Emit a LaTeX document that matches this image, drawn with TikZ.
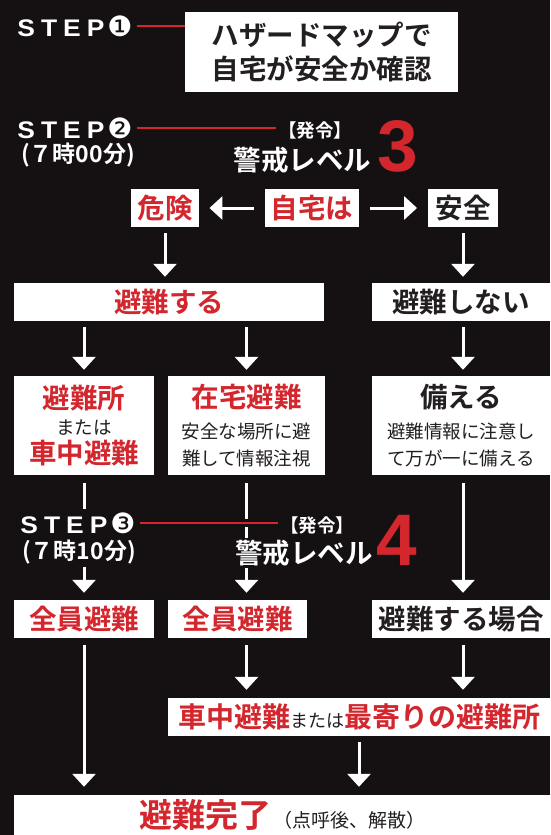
\documentclass[tikz,border=0pt]{standalone}
\usepackage{fontspec}
\usetikzlibrary{arrows.meta}
\setmainfont{Noto Sans CJK JP}[BoldFont={Noto Sans CJK JP Bold}]
\newfontfamily\latinfont{Liberation Sans}[FakeStretch=1.1]
\newfontfamily\digitfont{Liberation Sans}
\newfontfamily\dingfont{DejaVu Sans}

\definecolor{bg}{RGB}{21,17,19}
\definecolor{hred}{RGB}{211,38,45}
\definecolor{hblack}{RGB}{35,31,32}

\newcommand{\bigjp}{\bfseries\fontsize{27.5}{34}\selectfont}
\newcommand{\smalljp}{\mdseries\fontsize{18.5}{27}\selectfont}
\newcommand{\steptitle}[1]{{\latinfont\bfseries\fontsize{24}{26}\selectfont S\kern6pt T\kern6pt E\kern6pt P\kern3pt}{\dingfont\mdseries\fontsize{28}{28}\selectfont #1}}

\tikzset{
  box/.style={fill=white, inner sep=0pt, text=hblack, font=\bigjp, minimum height=38pt},
  redbox/.style={box, text=hred},
  arr/.style={white, line width=3pt, -{Triangle[width=23pt,length=13pt]}, shorten >=6pt, shorten <=6pt},
  steptext/.style={text=white, fill=bg, inner sep=4pt},
  timetext/.style={text=white, fill=bg, inner sep=3pt, font=\bfseries\fontsize{23}{26}\selectfont},
  hatsurei/.style={text=white, inner sep=2pt, font=\bfseries\fontsize{18.5}{20}\selectfont},
  leveltext/.style={text=white, fill=bg, inner sep=2pt, font=\bfseries\fontsize{27.5}{30}\selectfont},
  levelnum/.style={text=hred, inner sep=0pt, font=\digitfont\bfseries\fontsize{73}{76}\selectfont},
  redline/.style={hred, line width=2pt},
}

\begin{document}
\begin{tikzpicture}[x=1pt,y=-1pt]
  \fill[bg] (0,0) rectangle (550,835);
  \useasboundingbox (0,0) rectangle (550,835);

  \node[box, minimum width=273pt, minimum height=80pt, align=center] (check) at (321.5,52) {ハザードマップで\\自宅が安全か確認};
  \node[redbox, minimum width=68.5pt] (kiken) at (165,208) {危険};
  \node[redbox, minimum width=94.5pt] (jitaku) at (312,208) {自宅は};
  \node[box, minimum width=69.5pt] (anzen) at (463,208) {安全};
  \node[redbox, minimum width=310.5pt] (hinan) at (169,302) {避難する};
  \node[box, minimum width=177.5pt] (nohinan) at (461,302) {避難しない};

  \node[redbox, minimum width=139.5pt, minimum height=99pt, align=center, font=\smalljp] (hinanjo) at (84,425.5)
    {{\bigjp 避難所}\\[-1pt]{\color{hblack}または}\\[2pt]{\bigjp 車中避難}};
  \node[box, minimum width=157pt, minimum height=99pt, align=center, font=\smalljp] (zaitaku) at (246.5,425.5)
    {{\bigjp\color{hred}在宅避難}\\[3.5pt]安全な場所に避\\難して情報注視};
  \node[box, minimum width=177.5pt, minimum height=99pt, align=center, font=\smalljp] (sonaeru) at (461,425.5)
    {{\bigjp 備える}\\[3.5pt]避難情報に注意し\\て万が一に備える};

  \node[redbox, minimum width=139.5pt] (zenin1) at (84,619) {全員避難};
  \node[redbox, minimum width=139pt] (zenin2) at (237.5,619) {全員避難};
  \node[box, minimum width=177.5pt] (baai) at (461,619) {避難する場合};
  \node[redbox, minimum width=382pt] (shachu) at (359,717)
    {\fontsize{28}{30}\selectfont 車中避難{\color{hblack}\mdseries\fontsize{18}{20}\selectfont または}最寄りの避難所};
  \node[box, minimum width=536pt, minimum height=40pt] (kanryo) at (282,815)
    {{\color{hred}\fontsize{33}{36}\selectfont 避難完了}\hspace{2pt}{\mdseries\fontsize{19}{22}\selectfont （点呼後、解散）}};

  \draw[arr] (kiken) -- (hinan.north -| kiken);
  \draw[arr, shorten >=10pt, shorten <=11pt] (jitaku) -- (kiken);
  \draw[arr, shorten >=11pt, shorten <=11pt] (jitaku) -- (anzen);
  \draw[arr] (anzen) -- (nohinan.north -| anzen);
  \draw[arr] (hinan.south -| hinanjo) -- (hinanjo);
  \draw[arr] (hinan.south -| zaitaku) -- (zaitaku);
  \draw[arr] (nohinan.south -| anzen) -- (sonaeru.north -| anzen);
  \draw[arr, shorten <=8pt, shorten >=7pt] (hinanjo) -- (zenin1);
  \draw[arr, shorten <=8pt, shorten >=7pt] (zaitaku) -- (zenin2.north -| zaitaku);
  \draw[arr, shorten <=8pt, shorten >=7pt] (sonaeru.south -| anzen) -- (baai.north -| anzen);
  \draw[arr, shorten <=7pt, shorten >=8pt] (zenin1) -- (kanryo.north -| zenin1);
  \draw[arr, shorten <=7pt, shorten >=8pt] (zenin2.south -| zaitaku) -- (shachu.north -| zaitaku);
  \draw[arr, shorten <=7pt, shorten >=8pt] (baai.south -| anzen) -- (shachu.north -| anzen);
  \draw[arr, shorten >=8pt] (shachu) -- (kanryo.north -| shachu);

  \node[steptext] (step1) at (75,26) {\steptitle{❶}};
  \node[steptext] (step2) at (75,128) {\steptitle{❷}};
  \node[timetext] (time2) at (78,155) {(７時00分)};
  \node[steptext] (step3) at (78,523) {\steptitle{❸}};
  \node[timetext] (time3) at (79,552) {(７時10分)};

  \node[hatsurei] (hatsu2) at (315,130) {【発令】};
  \node[leveltext] (level2) at (302.5,160) {警戒レベル};
  \node[levelnum] (num3) at (398,146) {3};
  \node[hatsurei] (hatsu3) at (317,525) {【発令】};
  \node[leveltext] (level3) at (304,553) {警戒レベル};
  \node[levelnum] (num4) at (397,540) {4};

  \draw[redline] (step1.east) -- (step1.east -| check.west);
  \draw[redline] (step2.east) -- (step2.east -| hatsu2.west);
  \draw[bg, line width=8pt] (step3.east) -- (step3.east -| hatsu3.west);
  \draw[redline] (step3.east) -- (step3.east -| hatsu3.west);
\end{tikzpicture}
\end{document}
